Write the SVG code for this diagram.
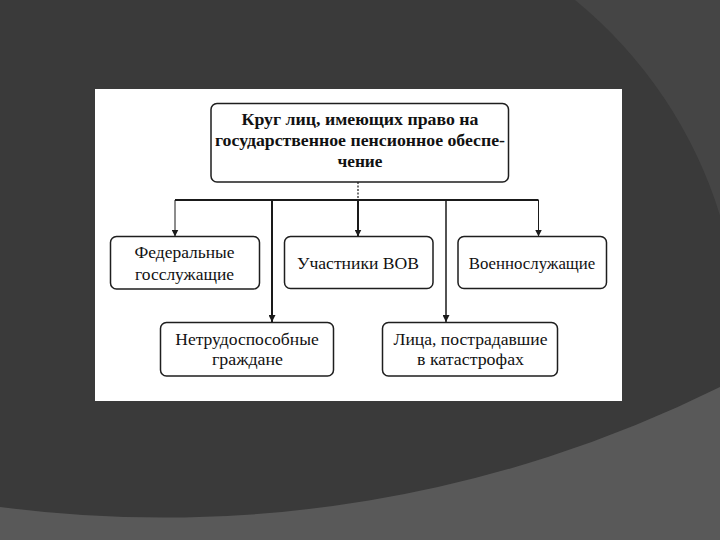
<svg xmlns="http://www.w3.org/2000/svg" width="720" height="540" viewBox="0 0 720 540">
  <defs>
    <style>
      .box { fill: #ffffff; stroke: #1e1e1e; stroke-width: 1.5; }
      .t { font-family: "Liberation Serif", "Times New Roman", serif; font-size: 16px; fill: #111111; text-anchor: middle; }
      .tb { font-weight: bold; }
      .con { fill: none; stroke: #1a1a1a; }
    </style>
    <marker id="arr" viewBox="0 0 8 8" refX="8" refY="4" markerWidth="7" markerHeight="7" markerUnits="userSpaceOnUse" orient="auto">
      <path d="M0,0 L8,4 L0,8 z" fill="#1a1a1a"/>
    </marker>
  </defs>

  <!-- background -->
  <rect x="0" y="0" width="720" height="540" fill="#3a3a3a"/>
  <path d="M575,0 A449,449 0 0 1 720,480 L720,0 Z" fill="#454545"/>
  <path d="M0,507 A1254,1254 0 0 0 720,387 L720,540 L0,540 Z" fill="#595959"/>

  <!-- white panel -->
  <rect x="95" y="89" width="527" height="312" fill="#ffffff"/>

  <!-- connectors -->
  <g id="connectors">
    <path class="con" d="M358,182 V200" stroke-width="1.2" stroke-dasharray="2 1.5" stroke="#555555"/>
    <path class="con" d="M175,200 H538.5" stroke-width="2"/>
    <path class="con" d="M175,200 V236.5" stroke-width="1" marker-end="url(#arr)"/>
    <path class="con" d="M272,200 V322" stroke-width="2" marker-end="url(#arr)"/>
    <path class="con" d="M358,200 V236.5" stroke-width="2" marker-end="url(#arr)"/>
    <path class="con" d="M446,200 V322" stroke-width="1.5" marker-end="url(#arr)"/>
    <path class="con" d="M538.5,200 V236.5" stroke-width="1" marker-end="url(#arr)"/>
  </g>

  <!-- nodes -->
  <g id="root">
    <rect class="box" x="211" y="103.5" width="297.5" height="78.5" rx="6"/>
    <text class="t tb" x="360" y="125" textLength="237" lengthAdjust="spacingAndGlyphs">Круг лиц, имеющих право на</text>
    <text class="t tb" x="360" y="146" textLength="290" lengthAdjust="spacingAndGlyphs">государственное пенсионное обеспе-</text>
    <text class="t tb" x="360" y="166.5" textLength="45" lengthAdjust="spacingAndGlyphs">чение</text>
  </g>

  <g id="federal">
    <rect class="box" x="110.5" y="236.5" width="149" height="52.5" rx="6"/>
    <text class="t" x="184.5" y="257.5" textLength="100" lengthAdjust="spacingAndGlyphs">Федеральные</text>
    <text class="t" x="184.5" y="279.5" textLength="99" lengthAdjust="spacingAndGlyphs">госслужащие</text>
  </g>

  <g id="veterans">
    <rect class="box" x="284.5" y="236.5" width="148.5" height="52" rx="6"/>
    <text class="t" x="358" y="268.5" textLength="122" lengthAdjust="spacingAndGlyphs">Участники ВОВ</text>
  </g>

  <g id="military">
    <rect class="box" x="458" y="236.5" width="148.5" height="52" rx="6"/>
    <text class="t" x="532" y="268.5" textLength="126.5" lengthAdjust="spacingAndGlyphs">Военнослужащие</text>
  </g>

  <g id="disabled">
    <rect class="box" x="160.5" y="322.5" width="173" height="53.5" rx="6"/>
    <text class="t" x="247" y="344.5" textLength="143.5" lengthAdjust="spacingAndGlyphs">Нетрудоспособные</text>
    <text class="t" x="247.5" y="365" textLength="71" lengthAdjust="spacingAndGlyphs">граждане</text>
  </g>

  <g id="victims">
    <rect class="box" x="382.5" y="322.5" width="175" height="53.5" rx="6"/>
    <text class="t" x="470.5" y="344.5" textLength="154" lengthAdjust="spacingAndGlyphs">Лица, пострадавшие</text>
    <text class="t" x="470.5" y="365" textLength="107" lengthAdjust="spacingAndGlyphs">в катастрофах</text>
  </g>
</svg>
